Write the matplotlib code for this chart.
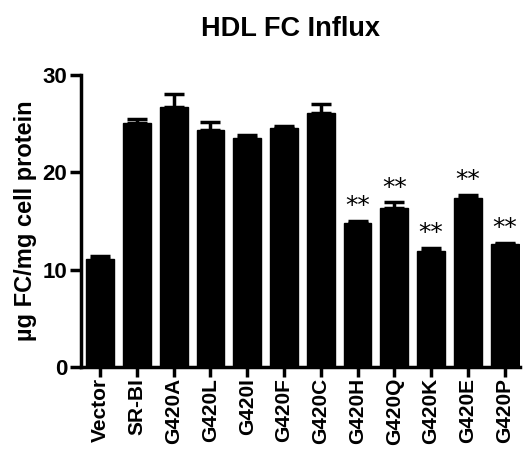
import numpy as np
from matplotlib import pyplot as plt

plt.rcParams['font.family'] = ['Liberation Sans', 'DejaVu Sans']

groups = ['Vector', 'SR-BI', 'G420A', 'G420L', 'G420I', 'G420F',
          'G420C', 'G420H', 'G420Q', 'G420K', 'G420E', 'G420P']
influx = [11.1, 25.1, 26.7, 24.3, 23.5, 24.5, 26.1, 14.8, 16.3, 11.9, 17.4, 12.6]
sem = [0.3, 0.4, 1.3, 0.9, 0.3, 0.3, 0.9, 0.2, 0.6, 0.3, 0.3, 0.1]
marks = ['', '', '', '', '', '', '', '**', '**', '**', '**', '**']

fig = plt.figure(figsize=(5.23, 4.49), dpi=100)
ax = fig.add_axes([0.155, 0.183, 0.84, 0.650])

x = np.arange(len(groups))
lower = np.zeros(len(groups))
ax.bar(x, influx, width=0.76, color='black', edgecolor='black')
ax.errorbar(x, influx, yerr=[lower, sem], fmt='none', ecolor='black',
            elinewidth=2.5, capsize=7, capthick=2.5)

for xi, v, e, m in zip(x, influx, sem, marks):
    if m:
        ax.text(xi, v + e + 0.3, m, ha='center', va='bottom',
                fontsize=18, family='DejaVu Sans')

ax.set_xlim(-0.52, 11.43)
ax.set_ylim(0, 30)
ax.set_yticks([0, 10, 20, 30])
ax.set_xticks(x)
ax.set_xticklabels(groups, rotation=90, fontsize=15, fontweight='bold')
for lab in ax.get_yticklabels():
    lab.set_fontsize(16)
    lab.set_fontweight('bold')

ax.spines['top'].set_visible(False)
ax.spines['right'].set_visible(False)
ax.spines['left'].set_linewidth(2.5)
ax.spines['bottom'].set_linewidth(2.5)
ax.tick_params(axis='y', width=2.5, length=8, pad=2)
ax.tick_params(axis='x', width=2.5, length=7, pad=1)

ax.set_ylabel('µg FC/mg cell protein', fontsize=17, fontweight='bold', labelpad=4)
fig.text(0.555, 0.935, 'HDL FC Influx', ha='center', va='center',
         fontsize=19.5, fontweight='bold')

fig.savefig('out.png', dpi=100)
